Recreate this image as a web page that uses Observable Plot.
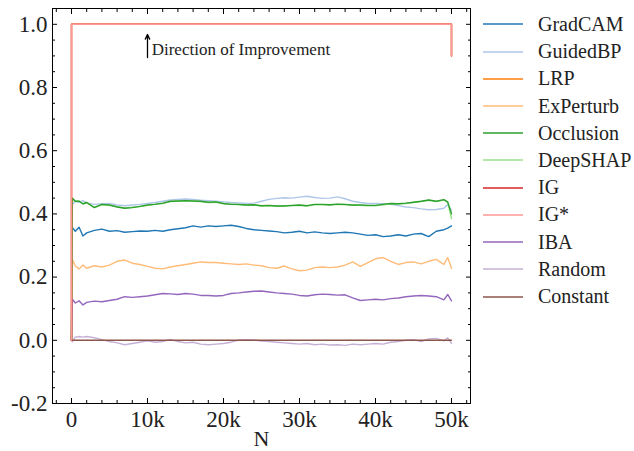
<!DOCTYPE html>
<html>
<head>
<meta charset="utf-8">
<script src="https://cdn.jsdelivr.net/npm/d3@7"></script>
<script src="https://cdn.jsdelivr.net/npm/@observablehq/plot@0.6"></script>
<style>
  html, body { margin: 0; padding: 0; background: #fff; }
  #wrap { position: relative; width: 634px; height: 451px; font-family: 'Liberation Serif', serif; }
  #legend { position: absolute; left: 483px; top: 10.7px; }
  .row { height: 27.24px; display: flex; align-items: center; font-size: 20px; color: #222; font-family: 'Liberation Serif', serif; }
  .row svg { margin-right: 15px; display: block; }
</style>
</head>
<body>
<div id="wrap"><div id="legend"></div></div>
<script>
const methods = ["GradCAM","GuidedBP","LRP","ExPerturb","Occlusion","DeepSHAP","IG","IG*","IBA","Random","Constant"];
const colors  = ["#1f77b4","#aec7e8","#ff7f0e","#ffbb78","#2ca02c","#98df8a","#d62728","#ff9896","#9467bd","#c5b0d5","#8c564b"];

const N = [0,100,500,1000,1500,2000,3000,4000,5000,6000,7000,8000,9000,10000,11000,12000,13000,14000,15000,16000,17000,18000,19000,20000,21000,22000,23000,24000,25000,26000,27000,28000,29000,30000,31000,32000,33000,34000,35000,36000,37000,38000,39000,40000,41000,42000,43000,44000,45000,46000,47000,48000,49000,49500,50000];

const gradcam = [0,0.357,0.345,0.358,0.33,0.34,0.348,0.352,0.345,0.347,0.342,0.344,0.346,0.345,0.348,0.345,0.35,0.353,0.356,0.362,0.358,0.362,0.36,0.362,0.364,0.36,0.354,0.35,0.348,0.346,0.344,0.34,0.342,0.345,0.34,0.343,0.34,0.338,0.34,0.342,0.34,0.336,0.332,0.334,0.328,0.33,0.334,0.33,0.336,0.338,0.328,0.345,0.35,0.355,0.362];
const guidedbp = [0,0.43,0.44,0.437,0.442,0.435,0.43,0.432,0.433,0.428,0.426,0.428,0.43,0.433,0.436,0.44,0.444,0.446,0.447,0.446,0.443,0.442,0.44,0.438,0.436,0.435,0.433,0.434,0.44,0.446,0.449,0.451,0.45,0.453,0.456,0.452,0.449,0.45,0.454,0.448,0.44,0.436,0.433,0.433,0.432,0.43,0.426,0.422,0.42,0.416,0.413,0.414,0.418,0.43,0.412];
const experturb = [0,0.256,0.235,0.226,0.238,0.228,0.236,0.232,0.238,0.25,0.254,0.244,0.24,0.234,0.228,0.226,0.232,0.236,0.24,0.244,0.248,0.246,0.246,0.244,0.242,0.24,0.242,0.238,0.236,0.23,0.228,0.235,0.226,0.22,0.222,0.23,0.232,0.23,0.232,0.238,0.248,0.234,0.246,0.258,0.262,0.25,0.24,0.246,0.248,0.242,0.25,0.256,0.24,0.262,0.228];
const occlusion = [0,0.45,0.44,0.44,0.432,0.436,0.42,0.43,0.428,0.422,0.418,0.42,0.424,0.428,0.43,0.434,0.44,0.441,0.442,0.441,0.44,0.437,0.438,0.433,0.43,0.43,0.428,0.429,0.426,0.427,0.425,0.425,0.427,0.428,0.426,0.43,0.43,0.429,0.431,0.43,0.428,0.428,0.427,0.427,0.43,0.433,0.432,0.434,0.437,0.44,0.444,0.44,0.445,0.438,0.40];
const deepshap = [0,0.448,0.439,0.441,0.431,0.435,0.421,0.429,0.427,0.423,0.419,0.421,0.423,0.427,0.431,0.433,0.439,0.44,0.441,0.44,0.439,0.436,0.437,0.432,0.431,0.429,0.427,0.428,0.425,0.426,0.424,0.426,0.426,0.427,0.425,0.429,0.429,0.428,0.43,0.429,0.427,0.427,0.426,0.426,0.429,0.432,0.431,0.433,0.436,0.439,0.443,0.439,0.444,0.436,0.385];
const iba = [0,0.13,0.118,0.125,0.112,0.12,0.124,0.122,0.126,0.13,0.138,0.136,0.138,0.14,0.144,0.148,0.147,0.145,0.148,0.146,0.142,0.142,0.14,0.142,0.148,0.15,0.153,0.155,0.156,0.153,0.15,0.148,0.146,0.142,0.14,0.144,0.146,0.145,0.143,0.144,0.134,0.126,0.128,0.13,0.128,0.132,0.134,0.138,0.14,0.142,0.14,0.138,0.128,0.145,0.125];
const random = [0,-0.005,0.01,0.012,0.01,0.012,0.008,0.002,-0.004,-0.008,-0.014,-0.01,-0.006,-0.002,-0.006,-0.004,0.003,-0.004,-0.008,-0.006,-0.012,-0.014,-0.012,-0.01,-0.006,0.001,0.002,0.001,-0.002,-0.004,-0.006,-0.008,-0.01,-0.012,-0.01,-0.014,-0.012,-0.015,-0.014,-0.016,-0.012,-0.014,-0.012,-0.01,-0.012,-0.006,-0.004,0.0,0.002,-0.004,0.004,0.006,-0.002,0.008,-0.01];

const topN = [0,0,50000,50000];
const lrp = [0,1.0,1.0,0.9];
const ig = [0,1.0,1.0,0.9];
const igStar = [0,1.0,1.0,0.9];
const constN = [0,50000];
const constant = [0,0];

const xTicks = [0,10000,20000,30000,40000,50000];
const xTickLabels = ["0","10k","20k","30k","40k","50k"];
const xMinor = [-2000,2000,4000,6000,8000,12000,14000,16000,18000,22000,24000,26000,28000,32000,34000,36000,38000,42000,44000,46000,48000,52000];
const yTicks = [-0.2,0,0.2,0.4,0.6,0.8,1.0];
const yTickLabels = ["-0.2","0.0","0.2","0.4","0.6","0.8","1.0"];
const yMinor = [-0.15,-0.1,-0.05,0.05,0.1,0.15,0.25,0.3,0.35,0.45,0.5,0.55,0.65,0.7,0.75,0.85,0.9,0.95];

const arrowData = [{x: 10000, y1: 0.895, y2: 0.968}];
const noteData = [{x: 10550, y: 0.92, text: "Direction of Improvement"}];

const series = (xs, ys) => xs.map((x, i) => ({x, y: ys[i]}));
const col = m => colors[methods.indexOf(m)];
const line = (xs, ys, m, w = 1.4) => Plot.line(series(xs, ys), {x: "x", y: "y", stroke: col(m), strokeWidth: w});

const font = "'Liberation Serif', serif";
const plot = Plot.plot({
  width: 634, height: 451,
  marginLeft: 52, marginRight: 164, marginTop: 8, marginBottom: 48,
  style: {fontFamily: font, background: "transparent", color: "#000", overflow: "visible"},
  x: {domain: [-2500, 52500]},
  y: {domain: [-0.2, 1.05]},
  marks: [
    line(N, gradcam, "GradCAM"),
    line(N, guidedbp, "GuidedBP"),
    line(N, experturb, "ExPerturb"),
    line(N, deepshap, "DeepSHAP"),
    line(N, occlusion, "Occlusion"),
    line(N, iba, "IBA"),
    line(N, random, "Random"),
    line(constN, constant, "Constant"),
    line(topN, lrp, "LRP"),
    line(topN, ig, "IG"),
    line(topN, igStar, "IG*"),
    Plot.arrow(arrowData, {x1: "x", x2: "x", y1: "y1", y2: "y2", stroke: "#000", strokeWidth: 1.3, headLength: 6, headAngle: 50}),
    Plot.text(noteData, {x: "x", y: "y", text: "text", textAnchor: "start", fontSize: 17, fill: "#222", fontFamily: font}),
    Plot.frame({stroke: "#000", strokeWidth: 1}),
    Plot.axisX(xTicks, {anchor: "bottom", tickSize: -5, fill: "none", label: null}),
    Plot.axisX(xTicks, {anchor: "top", tickSize: -5, fill: "none", label: null}),
    Plot.axisY(yTicks, {anchor: "left", tickSize: -5, fill: "none", label: null}),
    Plot.axisY(yTicks, {anchor: "right", tickSize: -5, fill: "none", label: null}),
    Plot.axisX(xMinor, {anchor: "bottom", tickSize: -3, fill: "none", label: null}),
    Plot.axisX(xMinor, {anchor: "top", tickSize: -3, fill: "none", label: null}),
    Plot.axisY(yMinor, {anchor: "left", tickSize: -3, fill: "none", label: null}),
    Plot.axisY(yMinor, {anchor: "right", tickSize: -3, fill: "none", label: null}),
    Plot.axisX(xTicks, {anchor: "bottom", tickSize: 0, tickPadding: 7, fontSize: 23, fill: "#222", fontFamily: font, label: null, tickFormat: d => xTickLabels[xTicks.indexOf(d)]}),
    Plot.axisY(yTicks, {anchor: "left", tickSize: 0, tickPadding: 5, fontSize: 23, fill: "#222", fontFamily: font, label: null, tickFormat: d => yTickLabels[yTicks.indexOf(d)]}),
    Plot.text(["N"], {frameAnchor: "bottom", dy: 42, text: d => d, fontSize: 22, fill: "#222", fontFamily: font})
  ]
});
document.getElementById("wrap").prepend(plot);

const legend = document.getElementById("legend");
const svgNS = "http://www.w3.org/2000/svg";
methods.forEach((m, i) => {
  const row = document.createElement("div");
  row.className = "row";
  const sw = document.createElementNS(svgNS, "svg");
  sw.setAttribute("width", "40");
  sw.setAttribute("height", "4");
  const ln = document.createElementNS(svgNS, "line");
  ln.setAttribute("x1", "0"); ln.setAttribute("x2", "40");
  ln.setAttribute("y1", "2"); ln.setAttribute("y2", "2");
  ln.setAttribute("stroke", colors[i]);
  ln.setAttribute("stroke-width", "1.5");
  sw.append(ln);
  const t = document.createElement("span");
  t.textContent = m;
  row.append(sw, t);
  legend.append(row);
});
</script>
</body>
</html>
